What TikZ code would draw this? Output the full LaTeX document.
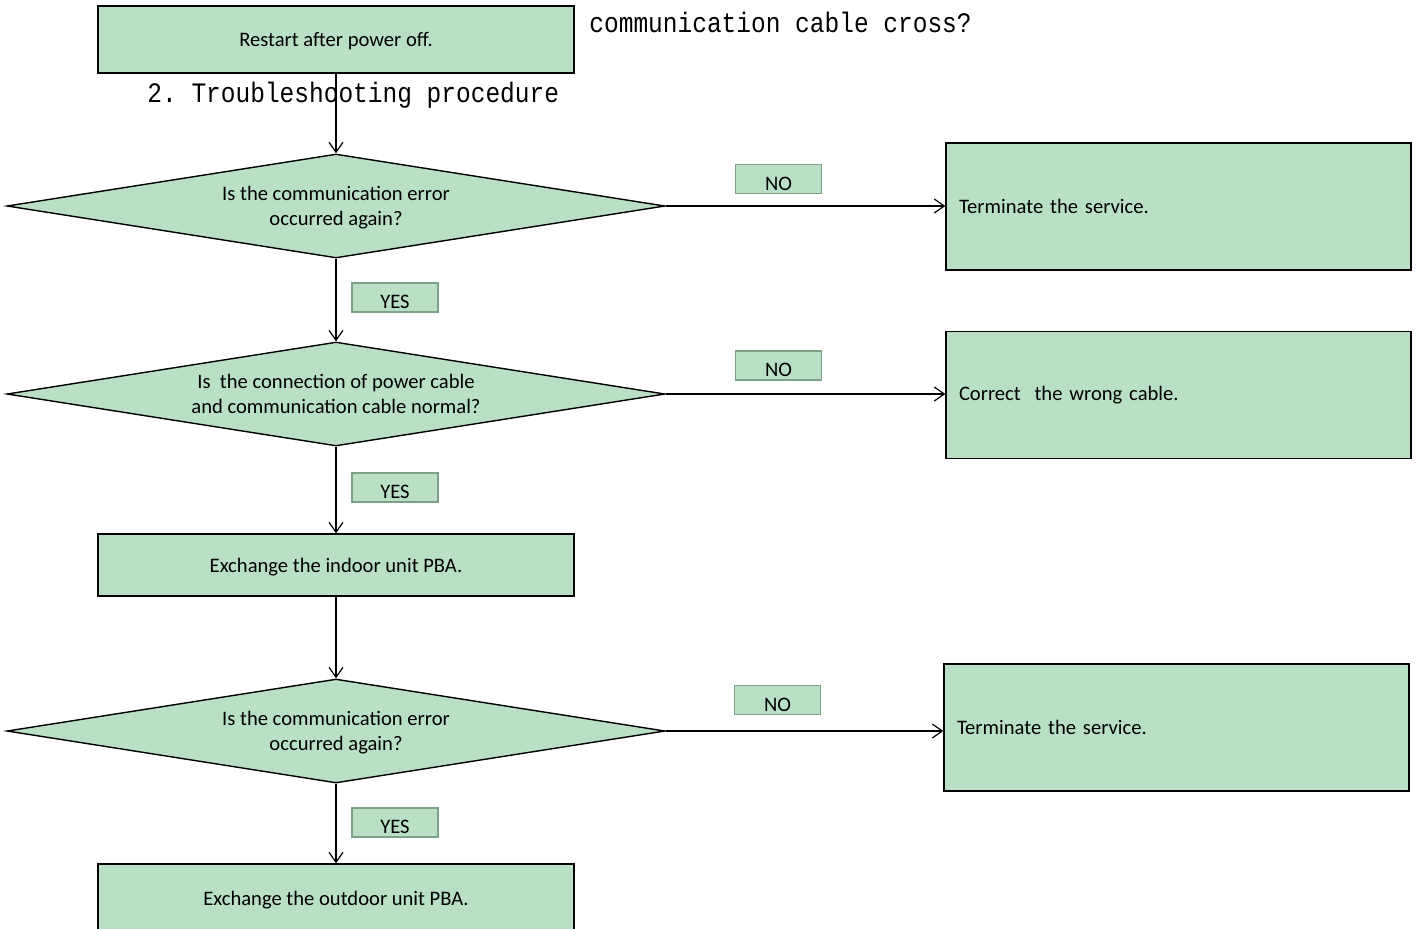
\documentclass[tikz,border=0pt]{standalone}
\usepackage{fontspec}
\setmainfont{Carlito}
\newfontfamily\monofont{Liberation Mono}
\usetikzlibrary{shapes.geometric,arrows.meta}
\definecolor{boxgreen}{RGB}{185,224,197}
\definecolor{tagedge}{RGB}{125,160,135}
\begin{document}
\begin{tikzpicture}[x=0.5pt,y=-0.5pt,
  font=\fontsize{10.3}{12.5}\selectfont,
  stepbox/.style={draw=black,line width=0.7pt,fill=boxgreen,rectangle,
    minimum width=238pt,inner sep=0pt,text depth=0pt},
  endbox/.style={draw=black,line width=0.7pt,fill=boxgreen,rectangle,
    text width=219.5pt,inner xsep=6.5pt,inner ysep=0pt,minimum height=63.5pt,align=left},
  decision/.style={draw=black,line width=0.7pt,fill=boxgreen,diamond,
    minimum width=329pt,minimum height=52pt,aspect=6.4,inner sep=0pt,align=center,text depth=0pt},
  tag/.style={draw=tagedge,line width=0.8pt,fill=boxgreen,rectangle,
    minimum width=43pt,minimum height=14.5pt,inner sep=0pt,text height=11pt,text depth=0pt},
  arr/.style={line width=0.6pt,-{Straight Barb[length=5pt,width=7pt]}},
  heading/.style={font=\monofont\fontsize{12.25}{14}\selectfont,inner sep=0pt}]
\clip (0,0) rectangle (1416,928);

% stray heading text behind the chart
\node[heading,anchor=west] (hq) at (589,22) {\scalebox{1}[1.15]{communication cable cross?}};
\node[heading,anchor=west] (hp) at (147,95) {\scalebox{1}[1.15]{2.\ Troubleshooting procedure}};

% main column
\node[stepbox,minimum height=33.5pt] (s1) at (336,39.5) {Restart after power off.};
\node[decision] (d1) at (336,206) {Is the communication error\\occurred again?};
\node[decision] (d2) at (336,394) {Is\ \ the connection of power cable\\and communication cable normal?};
\node[stepbox,minimum height=31pt] (s2) at (336,565) {Exchange the indoor unit PBA.};
\node[decision] (d3) at (336,731) {Is the communication error\\occurred again?};
\node[stepbox,minimum height=34pt] (s3) at (336,898) {Exchange the outdoor unit PBA.};

% right-hand outcomes
\node[endbox] (e1) at (1178.5,206.5) {Terminate the service.};
\node[endbox] (e2) at (1178.5,395) {Correct\ \ the wrong cable.};
\node[endbox] (e3) at (1176.5,727.5) {Terminate the service.};

% answer tags
\node[tag] (n1) at (778.5,179) {NO};
\node[tag] (n2) at (778.5,365.5) {NO};
\node[tag] (n3) at (777.5,700) {NO};
\node[tag] (y1) at (395,297.5) {YES};
\node[tag] (y2) at (395,487.5) {YES};
\node[tag] (y3) at (395,822.5) {YES};

% connectors
\draw[arr] (s1) -- (d1);
\draw[arr] (d1) -- (d2);
\draw[arr] (d2) -- (s2);
\draw[arr] (s2) -- (d3);
\draw[arr] (d3) -- (s3);
\draw[arr] (d1.east) -- (d1.east -| e1.west);
\draw[arr] (d2.east) -- (d2.east -| e2.west);
\draw[arr] (d3.east) -- (d3.east -| e3.west);
\end{tikzpicture}
\end{document}
